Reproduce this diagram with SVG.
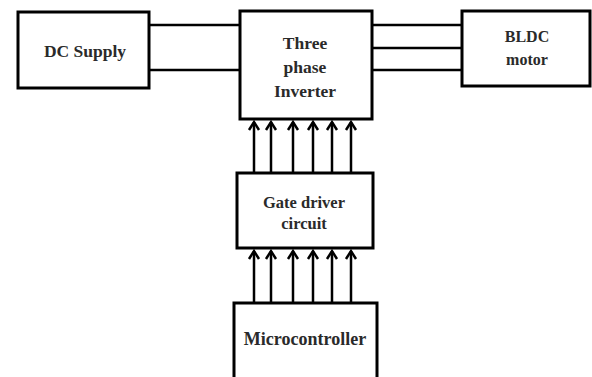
<svg xmlns="http://www.w3.org/2000/svg" width="592" height="377" viewBox="0 0 592 377">
<style>
.box{fill:#fff;stroke:#000;stroke-width:3}
.wire{stroke:#000;stroke-width:2.5;fill:none}
.arr{stroke:#000;stroke-width:2.5;fill:none;marker-end:url(#ah)}
.t{font-family:"Liberation Serif","Times New Roman",serif;font-weight:bold;fill:#2a2a2a;text-anchor:middle}
</style>
<defs>
<marker id="ah" markerUnits="userSpaceOnUse" markerWidth="14" markerHeight="14" viewBox="-10 -7 14 14" refX="0" refY="0" orient="auto">
<path d="M-8 -5 L0 0 L-8 5" fill="none" stroke="#000" stroke-width="2.5"/>
</marker>
</defs>
<rect width="592" height="377" fill="#fff"/>
<g id="connectors">
<line class="wire" x1="149" y1="25" x2="240" y2="25"/>
<line class="wire" x1="149" y1="70" x2="240" y2="70"/>
<line class="wire" x1="372" y1="25" x2="462" y2="25"/>
<line class="wire" x1="372" y1="48" x2="462" y2="48"/>
<line class="wire" x1="372" y1="70" x2="462" y2="70"/>
<g id="arrows-upper">
<line class="arr" x1="254" y1="173" x2="254" y2="122"/>
<line class="arr" x1="271" y1="173" x2="271" y2="122"/>
<line class="arr" x1="293" y1="173" x2="293" y2="122"/>
<line class="arr" x1="313" y1="173" x2="313" y2="122"/>
<line class="arr" x1="332" y1="173" x2="332" y2="122"/>
<line class="arr" x1="351" y1="173" x2="351" y2="122"/>
</g>
<g id="arrows-lower">
<line class="arr" x1="254" y1="303" x2="254" y2="251"/>
<line class="arr" x1="271" y1="303" x2="271" y2="251"/>
<line class="arr" x1="293" y1="303" x2="293" y2="251"/>
<line class="arr" x1="313" y1="303" x2="313" y2="251"/>
<line class="arr" x1="332" y1="303" x2="332" y2="251"/>
<line class="arr" x1="351" y1="303" x2="351" y2="251"/>
</g>
</g>
<g id="dc-supply">
<rect class="box" x="18" y="12" width="131" height="76"/>
<text class="t" x="85" y="57" font-size="17.5">DC Supply</text>
</g>
<g id="inverter">
<rect class="box" x="240" y="11" width="132" height="108"/>
<text class="t" x="305" y="49" font-size="17.5">Three</text>
<text class="t" x="305" y="73" font-size="17.5">phase</text>
<text class="t" x="305" y="97" font-size="17.5">Inverter</text>
</g>
<g id="bldc">
<rect class="box" x="462" y="11" width="128" height="75"/>
<text class="t" x="527" y="42" font-size="16">BLDC</text>
<text class="t" x="527" y="65" font-size="16">motor</text>
</g>
<g id="gate-driver">
<rect class="box" x="237" y="173" width="136" height="75"/>
<text class="t" x="304" y="208" font-size="16.5">Gate driver</text>
<text class="t" x="304" y="229" font-size="16.5">circuit</text>
</g>
<g id="microcontroller">
<rect class="box" x="234" y="303" width="143" height="80"/>
<text class="t" x="305" y="345" font-size="18">Microcontroller</text>
</g>
</svg>
